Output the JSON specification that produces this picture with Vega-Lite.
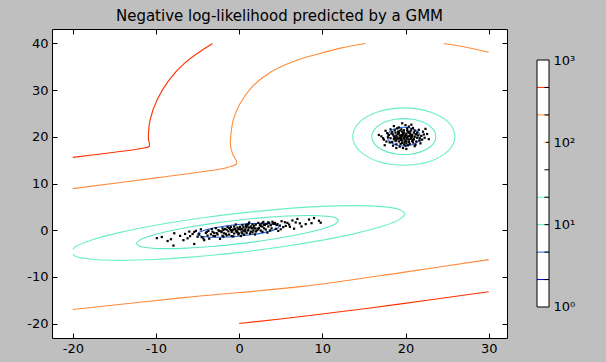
{
"$schema":"https://vega.github.io/schema/vega-lite/v6.json",
"background":"#bfbfbf",
"padding":{"left":26,"top":8,"right":32,"bottom":9},
"spacing":28,
"datasets":{
"lines":[
{"g":"a","i":0,"x":-20,"y":-5.11,"l":"21.5"},{"g":"a","i":1,"x":-19.62,"y":-5.64,"l":"21.5"},{"g":"a","i":2,"x":-17.61,"y":-6.24,"l":"21.5"},{"g":"a","i":3,"x":-14.41,"y":-6.46,"l":"21.5"},{"g":"a","i":4,"x":-10.25,"y":-6.29,"l":"21.5"},{"g":"a","i":5,"x":-5.41,"y":-5.72,"l":"21.5"},{"g":"a","i":6,"x":-0.2,"y":-4.8,"l":"21.5"},{"g":"a","i":7,"x":5.01,"y":-3.6,"l":"21.5"},{"g":"a","i":8,"x":9.85,"y":-2.19,"l":"21.5"},{"g":"a","i":9,"x":14.01,"y":-0.68,"l":"21.5"},{"g":"a","i":10,"x":17.21,"y":0.84,"l":"21.5"},{"g":"a","i":11,"x":19.22,"y":2.26,"l":"21.5"},{"g":"a","i":12,"x":19.9,"y":3.49,"l":"21.5"},{"g":"a","i":13,"x":19.22,"y":4.44,"l":"21.5"},{"g":"a","i":14,"x":17.21,"y":5.04,"l":"21.5"},{"g":"a","i":15,"x":14.01,"y":5.26,"l":"21.5"},{"g":"a","i":16,"x":9.85,"y":5.09,"l":"21.5"},{"g":"a","i":17,"x":5.01,"y":4.52,"l":"21.5"},{"g":"a","i":18,"x":-0.2,"y":3.6,"l":"21.5"},{"g":"a","i":19,"x":-5.41,"y":2.4,"l":"21.5"},{"g":"a","i":20,"x":-10.25,"y":0.99,"l":"21.5"},{"g":"a","i":21,"x":-14.41,"y":-0.52,"l":"21.5"},{"g":"a","i":22,"x":-17.61,"y":-2.04,"l":"21.5"},{"g":"a","i":23,"x":-19.62,"y":-3.46,"l":"21.5"},{"g":"a","i":24,"x":-20,"y":-4.15,"l":"21.5"},
{"g":"b","i":0,"x":11.96,"y":2.07,"l":"10"},{"g":"b","i":1,"x":11.55,"y":2.65,"l":"10"},{"g":"b","i":2,"x":10.33,"y":3.01,"l":"10"},{"g":"b","i":3,"x":8.4,"y":3.15,"l":"10"},{"g":"b","i":4,"x":5.88,"y":3.04,"l":"10"},{"g":"b","i":5,"x":2.95,"y":2.69,"l":"10"},{"g":"b","i":6,"x":-0.2,"y":2.14,"l":"10"},{"g":"b","i":7,"x":-3.35,"y":1.41,"l":"10"},{"g":"b","i":8,"x":-6.28,"y":0.56,"l":"10"},{"g":"b","i":9,"x":-8.8,"y":-0.35,"l":"10"},{"g":"b","i":10,"x":-10.73,"y":-1.27,"l":"10"},{"g":"b","i":11,"x":-11.95,"y":-2.13,"l":"10"},{"g":"b","i":12,"x":-12.36,"y":-2.87,"l":"10"},{"g":"b","i":13,"x":-11.95,"y":-3.45,"l":"10"},{"g":"b","i":14,"x":-10.73,"y":-3.81,"l":"10"},{"g":"b","i":15,"x":-8.8,"y":-3.95,"l":"10"},{"g":"b","i":16,"x":-6.28,"y":-3.84,"l":"10"},{"g":"b","i":17,"x":-3.35,"y":-3.49,"l":"10"},{"g":"b","i":18,"x":-0.2,"y":-2.94,"l":"10"},{"g":"b","i":19,"x":2.95,"y":-2.21,"l":"10"},{"g":"b","i":20,"x":5.88,"y":-1.36,"l":"10"},{"g":"b","i":21,"x":8.4,"y":-0.45,"l":"10"},{"g":"b","i":22,"x":10.33,"y":0.47,"l":"10"},{"g":"b","i":23,"x":11.55,"y":1.33,"l":"10"},{"g":"b","i":24,"x":11.96,"y":2.07,"l":"10"},
{"g":"c","i":0,"x":4.8,"y":0.75,"l":"4.64"},{"g":"c","i":1,"x":4.63,"y":1.04,"l":"4.64"},{"g":"c","i":2,"x":4.14,"y":1.27,"l":"4.64"},{"g":"c","i":3,"x":3.36,"y":1.4,"l":"4.64"},{"g":"c","i":4,"x":2.35,"y":1.43,"l":"4.64"},{"g":"c","i":5,"x":1.17,"y":1.37,"l":"4.64"},{"g":"c","i":6,"x":-0.1,"y":1.2,"l":"4.64"},{"g":"c","i":7,"x":-1.37,"y":0.95,"l":"4.64"},{"g":"c","i":8,"x":-2.55,"y":0.63,"l":"4.64"},{"g":"c","i":9,"x":-3.56,"y":0.26,"l":"4.64"},{"g":"c","i":10,"x":-4.34,"y":-0.11,"l":"4.64"},{"g":"c","i":11,"x":-4.83,"y":-0.5,"l":"4.64"},{"g":"c","i":12,"x":-5.0,"y":-0.85,"l":"4.64"},{"g":"c","i":13,"x":-4.83,"y":-1.14,"l":"4.64"},{"g":"c","i":14,"x":-4.34,"y":-1.37,"l":"4.64"},{"g":"c","i":15,"x":-3.56,"y":-1.5,"l":"4.64"},{"g":"c","i":16,"x":-2.55,"y":-1.53,"l":"4.64"},{"g":"c","i":17,"x":-1.37,"y":-1.47,"l":"4.64"},{"g":"c","i":18,"x":-0.1,"y":-1.3,"l":"4.64"},{"g":"c","i":19,"x":1.17,"y":-1.05,"l":"4.64"},{"g":"c","i":20,"x":2.35,"y":-0.73,"l":"4.64"},{"g":"c","i":21,"x":3.36,"y":-0.36,"l":"4.64"},{"g":"c","i":22,"x":4.14,"y":0.01,"l":"4.64"},{"g":"c","i":23,"x":4.63,"y":0.4,"l":"4.64"},{"g":"c","i":24,"x":4.8,"y":0.75,"l":"4.64"},
{"g":"d","i":0,"x":25.95,"y":20.05,"l":"21.5"},{"g":"d","i":1,"x":25.74,"y":21.64,"l":"21.5"},{"g":"d","i":2,"x":25.13,"y":23.13,"l":"21.5"},{"g":"d","i":3,"x":24.15,"y":24.4,"l":"21.5"},{"g":"d","i":4,"x":22.88,"y":25.38,"l":"21.5"},{"g":"d","i":5,"x":21.39,"y":25.99,"l":"21.5"},{"g":"d","i":6,"x":19.8,"y":26.2,"l":"21.5"},{"g":"d","i":7,"x":18.21,"y":25.99,"l":"21.5"},{"g":"d","i":8,"x":16.72,"y":25.38,"l":"21.5"},{"g":"d","i":9,"x":15.45,"y":24.4,"l":"21.5"},{"g":"d","i":10,"x":14.47,"y":23.13,"l":"21.5"},{"g":"d","i":11,"x":13.86,"y":21.64,"l":"21.5"},{"g":"d","i":12,"x":13.65,"y":20.05,"l":"21.5"},{"g":"d","i":13,"x":13.86,"y":18.46,"l":"21.5"},{"g":"d","i":14,"x":14.47,"y":16.97,"l":"21.5"},{"g":"d","i":15,"x":15.45,"y":15.7,"l":"21.5"},{"g":"d","i":16,"x":16.72,"y":14.72,"l":"21.5"},{"g":"d","i":17,"x":18.21,"y":14.11,"l":"21.5"},{"g":"d","i":18,"x":19.8,"y":13.9,"l":"21.5"},{"g":"d","i":19,"x":21.39,"y":14.11,"l":"21.5"},{"g":"d","i":20,"x":22.88,"y":14.72,"l":"21.5"},{"g":"d","i":21,"x":24.15,"y":15.7,"l":"21.5"},{"g":"d","i":22,"x":25.13,"y":16.97,"l":"21.5"},{"g":"d","i":23,"x":25.74,"y":18.46,"l":"21.5"},{"g":"d","i":24,"x":25.95,"y":20.05,"l":"21.5"},
{"g":"e","i":0,"x":23.65,"y":20.05,"l":"10"},{"g":"e","i":1,"x":23.52,"y":21.05,"l":"10"},{"g":"e","i":2,"x":23.13,"y":21.98,"l":"10"},{"g":"e","i":3,"x":22.52,"y":22.77,"l":"10"},{"g":"e","i":4,"x":21.73,"y":23.38,"l":"10"},{"g":"e","i":5,"x":20.8,"y":23.77,"l":"10"},{"g":"e","i":6,"x":19.8,"y":23.9,"l":"10"},{"g":"e","i":7,"x":18.8,"y":23.77,"l":"10"},{"g":"e","i":8,"x":17.87,"y":23.38,"l":"10"},{"g":"e","i":9,"x":17.08,"y":22.77,"l":"10"},{"g":"e","i":10,"x":16.47,"y":21.98,"l":"10"},{"g":"e","i":11,"x":16.08,"y":21.05,"l":"10"},{"g":"e","i":12,"x":15.95,"y":20.05,"l":"10"},{"g":"e","i":13,"x":16.08,"y":19.05,"l":"10"},{"g":"e","i":14,"x":16.47,"y":18.12,"l":"10"},{"g":"e","i":15,"x":17.08,"y":17.33,"l":"10"},{"g":"e","i":16,"x":17.87,"y":16.72,"l":"10"},{"g":"e","i":17,"x":18.8,"y":16.33,"l":"10"},{"g":"e","i":18,"x":19.8,"y":16.2,"l":"10"},{"g":"e","i":19,"x":20.8,"y":16.33,"l":"10"},{"g":"e","i":20,"x":21.73,"y":16.72,"l":"10"},{"g":"e","i":21,"x":22.52,"y":17.33,"l":"10"},{"g":"e","i":22,"x":23.13,"y":18.12,"l":"10"},{"g":"e","i":23,"x":23.52,"y":19.05,"l":"10"},{"g":"e","i":24,"x":23.65,"y":20.05,"l":"10"},
{"g":"f","i":0,"x":21.8,"y":20.05,"l":"4.64"},{"g":"f","i":1,"x":21.53,"y":21.05,"l":"4.64"},{"g":"f","i":2,"x":20.8,"y":21.78,"l":"4.64"},{"g":"f","i":3,"x":19.8,"y":22.05,"l":"4.64"},{"g":"f","i":4,"x":18.8,"y":21.78,"l":"4.64"},{"g":"f","i":5,"x":18.07,"y":21.05,"l":"4.64"},{"g":"f","i":6,"x":17.8,"y":20.05,"l":"4.64"},{"g":"f","i":7,"x":18.07,"y":19.05,"l":"4.64"},{"g":"f","i":8,"x":18.8,"y":18.32,"l":"4.64"},{"g":"f","i":9,"x":19.8,"y":18.05,"l":"4.64"},{"g":"f","i":10,"x":20.8,"y":18.32,"l":"4.64"},{"g":"f","i":11,"x":21.53,"y":19.05,"l":"4.64"},{"g":"f","i":12,"x":21.8,"y":20.05,"l":"4.64"},
{"g":"h","i":0,"x":-20,"y":15.6,"l":"464"},{"g":"h","i":1,"x":-15,"y":16.7,"l":"464"},{"g":"h","i":2,"x":-11.8,"y":17.5,"l":"464"},{"g":"h","i":3,"x":-10.8,"y":18.0,"l":"464"},{"g":"h","i":4,"x":-10.9,"y":19.5,"l":"464"},{"g":"h","i":5,"x":-10.9,"y":20.9,"l":"464"},{"g":"h","i":6,"x":-10.7,"y":23.7,"l":"464"},{"g":"h","i":7,"x":-9.9,"y":27.8,"l":"464"},{"g":"h","i":8,"x":-8.5,"y":32.0,"l":"464"},{"g":"h","i":9,"x":-6.5,"y":35.9,"l":"464"},{"g":"h","i":10,"x":-3.2,"y":40.0,"l":"464"},
{"g":"k","i":0,"x":-20,"y":8.9,"l":"215"},{"g":"k","i":1,"x":-10,"y":11.2,"l":"215"},{"g":"k","i":2,"x":-2.6,"y":13.0,"l":"215"},{"g":"k","i":3,"x":-1.3,"y":13.5,"l":"215"},{"g":"k","i":4,"x":-0.3,"y":14.3,"l":"215"},{"g":"k","i":5,"x":-0.8,"y":16.4,"l":"215"},{"g":"k","i":6,"x":-1.05,"y":18.2,"l":"215"},{"g":"k","i":7,"x":-1.0,"y":20.3,"l":"215"},{"g":"k","i":8,"x":-0.7,"y":23.7,"l":"215"},{"g":"k","i":9,"x":0.1,"y":27.1,"l":"215"},{"g":"k","i":10,"x":1.5,"y":30.6,"l":"215"},{"g":"k","i":11,"x":3.8,"y":33.9,"l":"215"},{"g":"k","i":12,"x":6.6,"y":36.2,"l":"215"},{"g":"k","i":13,"x":9.4,"y":37.7,"l":"215"},{"g":"k","i":14,"x":12.2,"y":39.0,"l":"215"},{"g":"k","i":15,"x":15.2,"y":40.0,"l":"215"},
{"g":"m","i":0,"x":24.6,"y":40.0,"l":"215"},{"g":"m","i":1,"x":26.7,"y":39.4,"l":"215"},{"g":"m","i":2,"x":30,"y":38.1,"l":"215"},
{"g":"n","i":0,"x":-20,"y":-17.0,"l":"215"},{"g":"n","i":1,"x":-6.4,"y":-14.4,"l":"215"},{"g":"n","i":2,"x":7.4,"y":-12.1,"l":"215"},{"g":"n","i":3,"x":19.5,"y":-9.1,"l":"215"},{"g":"n","i":4,"x":30,"y":-6.3,"l":"215"},
{"g":"p","i":0,"x":0,"y":-20,"l":"464"},{"g":"p","i":1,"x":8,"y":-18.4,"l":"464"},{"g":"p","i":2,"x":19,"y":-15.9,"l":"464"},{"g":"p","i":3,"x":30,"y":-13.2,"l":"464"}
],
"pts":[
{"x":19.9,"y":20.2},{"x":19.3,"y":20.3},{"x":20.6,"y":19.6},{"x":18.6,"y":20.1},{"x":20.1,"y":19.1},{"x":21.3,"y":20.6},{"x":19.6,"y":21.1},{"x":18.9,"y":19.3},{"x":20.4,"y":20.9},{"x":18.2,"y":19.7},{"x":20.9,"y":18.8},{"x":19.8,"y":19.7},{"x":19.4,"y":18.5},{"x":21.9,"y":20.2},{"x":17.8,"y":20.8},{"x":20.2,"y":21.8},{"x":21.1,"y":21.3},{"x":18.7,"y":21.4},{"x":20.7,"y":19.9},{"x":19.1,"y":20.6},{"x":20.0,"y":18.1},{"x":17.4,"y":19.4},{"x":21.7,"y":19.2},{"x":19.7,"y":20.5},{"x":20.3,"y":20.1},{"x":19.5,"y":19.5},{"x":20.8,"y":20.4},{"x":18.4,"y":18.9},{"x":20.5,"y":18.5},{"x":19.2,"y":22.0},{"x":22.3,"y":19.8},{"x":19.0,"y":19.9},{"x":20.1,"y":20.7},{"x":21.4,"y":19.8},{"x":18.0,"y":20.4},{"x":19.9,"y":18.9},{"x":19.6,"y":19.2},{"x":21.0,"y":20.9},{"x":18.8,"y":20.9},{"x":20.4,"y":19.4},{"x":19.3,"y":19.7},{"x":20.7,"y":21.6},{"x":17.6,"y":21.3},{"x":22.1,"y":21.1},{"x":18.5,"y":18.1},{"x":21.2,"y":18.3},{"x":19.8,"y":21.4},{"x":19.4,"y":20.0},{"x":20.2,"y":19.8},{"x":18.9,"y":20.3},{"x":21.5,"y":20.3},{"x":19.7,"y":17.6},{"x":20.0,"y":22.5},{"x":18.3,"y":20.7},{"x":20.8,"y":19.1},{"x":19.2,"y":19.0},{"x":20.6,"y":20.5},{"x":19.5,"y":21.6},{"x":21.8,"y":18.6},{"x":17.1,"y":20.1},{"x":20.3,"y":21.1},{"x":18.6,"y":19.5},{"x":21.1,"y":20.0},{"x":19.1,"y":21.1},{"x":19.9,"y":19.4},{"x":19.6,"y":20.2},{"x":20.5,"y":20.2},{"x":18.8,"y":19.7},{"x":20.1,"y":18.6},{"x":21.6,"y":21.5},{"x":18.1,"y":18.8},{"x":20.4,"y":22.2},{"x":19.3,"y":17.9},{"x":22.6,"y":20.6},{"x":18.9,"y":18.4},{"x":20.9,"y":21.9},{"x":19.8,"y":20.9},{"x":19.5,"y":20.4},{"x":20.7,"y":19.7},{"x":18.7,"y":20.0},{"x":20.0,"y":20.4},{"x":21.3,"y":19.0},{"x":17.9,"y":19.9},{"x":20.2,"y":19.6},{"x":19.2,"y":20.8},{"x":21.0,"y":19.5},{"x":19.6,"y":18.7},{"x":20.6,"y":21.2},{"x":18.4,"y":21.0},{"x":22.0,"y":19.4},{"x":17.7,"y":19.0},{"x":20.3,"y":18.2},{"x":19.0,"y":21.8},{"x":21.4,"y":20.9},{"x":19.9,"y":20.0},{"x":19.4,"y":19.3},{"x":20.1,"y":20.3},{"x":19.7,"y":20.8},{"x":20.8,"y":20.1},{"x":19.1,"y":19.6},{"x":20.4,"y":18.9},{"x":18.5,"y":20.5},{"x":21.2,"y":20.5},{"x":19.3,"y":21.3},{"x":20.0,"y":19.9},{"x":19.8,"y":18.4},{"x":18.2,"y":21.6},{"x":21.7,"y":19.7},{"x":19.5,"y":19.8},{"x":20.5,"y":20.8},{"x":18.8,"y":19.1},{"x":20.9,"y":19.3},{"x":20.2,"y":21.4},{"x":17.3,"y":19.7},{"x":22.2,"y":20.5},{"x":19.6,"y":22.9},{"x":20.1,"y":17.4},{"x":21.1,"y":18.0},{"x":18.6,"y":22.3},{"x":22.8,"y":19.5},{"x":16.8,"y":20.4},{"x":20.7,"y":22.6},{"x":18.9,"y":17.6},{"x":22.4,"y":21.7},{"x":17.5,"y":18.2},
{"x":0.2,"y":0.14},{"x":-1.5,"y":0.1},{"x":2.3,"y":0.16},{"x":-3.1,"y":-1.22},{"x":4.2,"y":1.34},{"x":0.9,"y":-0.62},{"x":-0.6,"y":0.78},{"x":1.7,"y":0.54},{"x":-2.4,"y":-0.18},{"x":5.6,"y":0.92},{"x":-4.8,"y":-0.86},{"x":3.3,"y":1.36},{"x":-0.2,"y":-0.44},{"x":1.1,"y":1.32},{"x":-1.9,"y":-1.38},{"x":6.8,"y":1.66},{"x":-6.2,"y":-1.74},{"x":2.8,"y":-0.34},{"x":0.5,"y":0.6},{"x":-3.7,"y":-0.14},{"x":3.9,"y":0.38},{"x":-0.9,"y":-0.38},{"x":1.4,"y":-0.32},{"x":-2.8,"y":0.44},{"x":7.5,"y":0.8},{"x":-5.4,"y":-0.38},{"x":0.0,"y":0.3},{"x":2.0,"y":1.2},{"x":-1.2,"y":-0.94},{"x":4.7,"y":-0.16},{"x":-7.1,"y":-1.22},{"x":8.4,"y":2.28},{"x":-0.4,"y":1.22},{"x":1.9,"y":-0.92},{"x":-2.1,"y":-0.42},{"x":3.5,"y":0.8},{"x":-4.3,"y":-1.76},{"x":0.7,"y":0.14},{"x":-1.7,"y":0.26},{"x":2.6,"y":0.92},{"x":5.1,"y":1.92},{"x":-3.4,"y":-0.88},{"x":1.2,"y":0.54},{"x":-0.7,"y":-1.34},{"x":6.1,"y":0.72},{"x":-5.9,"y":-1.28},{"x":0.3,"y":-0.44},{"x":2.9,"y":1.78},{"x":-2.6,"y":-0.92},{"x":9.6,"y":2.02},{"x":-8.2,"y":-1.94},{"x":1.6,"y":1.22},{"x":-1.0,"y":0.0},{"x":3.7,"y":-0.06},{"x":-3.9,"y":-0.38},{"x":0.8,"y":0.76},{"x":4.5,"y":1.1},{"x":-0.1,"y":-0.92},{"x":2.2,"y":0.34},{"x":-4.6,"y":0.18},{"x":7.0,"y":2.4},{"x":-6.7,"y":-2.14},{"x":1.0,"y":-0.1},{"x":-1.4,"y":0.72},{"x":3.1,"y":1.12},{"x":-2.3,"y":-1.86},{"x":0.4,"y":1.08},{"x":5.3,"y":0.66},{"x":-0.5,"y":0.3},{"x":2.4,"y":0.48},{"x":-3.0,"y":-0.6},{"x":1.3,"y":-0.74},{"x":4.0,"y":1.8},{"x":-5.0,"y":-1.4},{"x":0.1,"y":0.72},{"x":-1.8,"y":-0.66},{"x":6.4,"y":2.08},{"x":3.0,"y":0.4},{"x":-0.8,"y":-0.06},{"x":1.8,"y":0.96},{"x":-2.0,"y":0.4},{"x":8.7,"y":1.5},{"x":-9.3,"y":-1.46},{"x":0.6,"y":-0.98},{"x":2.7,"y":1.44},{"x":-3.6,"y":-1.82},{"x":4.4,"y":0.28},{"x":-1.1,"y":0.28},{"x":1.5,"y":0.4},{"x":-0.3,"y":-0.16},{"x":8.0,"y":1.3},{"x":-4.0,"y":-0.6},{"x":3.4,"y":-0.52},{"x":-2.5,"y":0.0},{"x":0.9,"y":0.58},{"x":5.8,"y":1.56},{"x":-6.5,"y":-0.8},{"x":2.1,"y":-0.08},{"x":-1.6,"y":-0.82},{"x":0.0,"y":-0.7},{"x":3.8,"y":1.06},{"x":-0.6,"y":-0.72},{"x":1.2,"y":1.64},{"x":-2.9,"y":-1.28},{"x":4.9,"y":0.98},{"x":-7.8,"y":-0.66},{"x":0.5,"y":-0.1},{"x":2.5,"y":1.1},{"x":-1.3,"y":-0.26},{"x":6.6,"y":0.32},{"x":-3.3,"y":0.24},{"x":1.6,"y":-0.48},{"x":-0.2,"y":0.56},{"x":3.6,"y":1.52},{"x":-4.5,"y":-1.5},{"x":0.3,"y":0.26},{"x":2.0,"y":-0.3},{"x":-2.2,"y":-0.24},{"x":9.0,"y":2.6},{"x":-5.6,"y":-0.82},{"x":1.0,"y":1.0},{"x":-0.9,"y":-1.28},{"x":4.1,"y":1.42},{"x":-1.5,"y":-1.1},{"x":2.8,"y":0.76},{"x":0.7,"y":-0.26},{"x":-3.8,"y":-1.16},{"x":5.5,"y":1.7},{"x":-0.4,"y":-0.08},{"x":1.4,"y":0.78},{"x":7.3,"y":1.46},{"x":-2.7,"y":-0.64},{"x":3.2,"y":0.14},{"x":-1.0,"y":0.7},{"x":0.2,"y":-1.26},{"x":-6.0,"y":-0.3},{"x":2.3,"y":1.56},{"x":-4.2,"y":-2.14},{"x":4.6,"y":1.32},{"x":-0.7,"y":0.16},{"x":1.9,"y":0.38},{"x":-1.9,"y":0.02},{"x":3.0,"y":1.2},{"x":0.4,"y":-0.72},{"x":-3.2,"y":-0.34},{"x":6.0,"y":1.2},{"x":-8.6,"y":-2.32},{"x":1.1,"y":0.02},{"x":-0.1,"y":0.18},{"x":2.6,"y":-0.08},{"x":9.8,"y":1.6},{"x":-2.0,"y":-1.2},{"x":5.0,"y":0.2},{"x":0.8,"y":1.16},{"x":-5.2,"y":-0.14},{"x":3.5,"y":1.7},{"x":-1.2,"y":0.46},{"x":1.7,"y":-0.06},{"x":-0.3,"y":-0.46},{"x":4.3,"y":1.56},{"x":-9.9,"y":-1.7},{"x":-7.9,"y":-3.3},{"x":-5.4,"y":-2.96}
],
"cb":[
{"v":2.154,"a":0,"b":1,"l":"2.15"},{"v":4.642,"a":0,"b":1,"l":"4.64"},{"v":10,"a":0,"b":1,"l":"10"},{"v":21.54,"a":0,"b":1,"l":"21.5"},{"v":100,"a":0.55,"b":1,"l":"100"},{"v":215.4,"a":0,"b":1,"l":"215"},{"v":464.2,"a":0,"b":1,"l":"464"},
{"v":2.154,"a":0.62,"b":1,"l":"tick"},{"v":4.642,"a":0.62,"b":1,"l":"tick"},{"v":10,"a":0.62,"b":1,"l":"tick"},{"v":21.54,"a":0.62,"b":1,"l":"tick"},{"v":46.42,"a":0.62,"b":1,"l":"tick"},{"v":100,"a":0.75,"b":1,"l":"tick"},{"v":215.4,"a":0.62,"b":1,"l":"tick"},{"v":464.2,"a":0.62,"b":1,"l":"tick"}
]
},
"hconcat":[
{
"width":455,"height":309,
"title":{"text":"Negative log-likelihood predicted by a GMM","font":"DejaVu Sans","fontSize":15,"fontWeight":"normal","color":"black","offset":5},
"view":{"fill":"white","stroke":"black","strokeWidth":1},
"layer":[
{"data":{"name":"lines"},
"mark":{"type":"line","strokeWidth":1.1,"interpolate":"catmull-rom"},
"encoding":{
"x":{"field":"x","type":"quantitative","scale":{"domain":[-22.5,32.2],"nice":false,"zero":false},"axis":{"orient":"bottom","values":[-20,-10,0,10,20,30],"labelExpr":"datum.value + ''","title":null}},
"y":{"field":"y","type":"quantitative","scale":{"domain":[-23.1,43.1],"nice":false,"zero":false},"axis":{"orient":"left","values":[-20,-10,0,10,20,30,40],"labelExpr":"datum.value + ''","title":null}},
"detail":{"field":"g"},
"order":{"field":"i","type":"quantitative"},
"color":{"field":"l","type":"nominal","scale":{"domain":["2.15","4.64","10","21.5","100","215","464","tick"],"range":["#0000d4","#1f5fe6","#5de8c6","#6cefc6","#ff9a40","#ff8a3a","#ff3000","#000000"]},"legend":null}
}},
{"data":{"name":"pts"},
"mark":{"type":"square","size":5,"color":"black","opacity":1,"filled":true},
"encoding":{
"x":{"field":"x","type":"quantitative","axis":{"orient":"top","values":[-20,-10,0,10,20,30],"labels":false,"title":null}},
"y":{"field":"y","type":"quantitative","axis":{"orient":"right","values":[-20,-10,0,10,20,30,40],"labels":false,"title":null}}
}}
],
"resolve":{"axis":{"x":"independent","y":"independent"}}
},
{
"width":12,"height":309,
"view":{"stroke":null,"fill":null},
"layer":[
{"data":{"values":[{"lo":1,"hi":1000,"a":0,"b":1}]},
"mark":{"type":"rect","fill":"white"},
"encoding":{
"x":{"field":"a","type":"quantitative","scale":{"domain":[0,1],"nice":false,"zero":false},"axis":null},
"x2":{"field":"b"},
"y":{"field":"lo","type":"quantitative","scale":{"type":"log","domain":[0.42,2381],"nice":false},"axis":{"orient":"right","values":[1,10,100,1000],"labelExpr":"datum.value == 1 ? '10⁰' : datum.value == 10 ? '10¹' : datum.value == 100 ? '10²' : '10³'","ticks":false,"labelPadding":4,"title":null}},
"y2":{"field":"hi"}
}},
{"data":{"name":"cb"},
"mark":{"type":"rule","strokeWidth":1},
"encoding":{
"x":{"field":"a","type":"quantitative","axis":null},
"x2":{"field":"b"},
"y":{"field":"v","type":"quantitative"},
"color":{"field":"l","type":"nominal","scale":{"domain":["2.15","4.64","10","21.5","100","215","464","tick"],"range":["#0000d4","#1f5fe6","#5de8c6","#6cefc6","#ff9a40","#ff8a3a","#ff3000","#000000"]},"legend":null}
}},
{"data":{"values":[{"lo":1,"hi":1000,"a":0,"b":1}]},
"mark":{"type":"rect","fill":null,"stroke":"black","strokeWidth":1},
"encoding":{
"x":{"field":"a","type":"quantitative","axis":null},
"x2":{"field":"b"},
"y":{"field":"lo","type":"quantitative"},
"y2":{"field":"hi"}
}}
]
}
],
"config":{
"view":{"stroke":"black"},
"axis":{"labelFont":"DejaVu Sans","labelFontSize":13,"labelColor":"black","tickColor":"black","tickSize":-5,"tickWidth":1,"labelPadding":9,"domain":false,"grid":false}
}
}
